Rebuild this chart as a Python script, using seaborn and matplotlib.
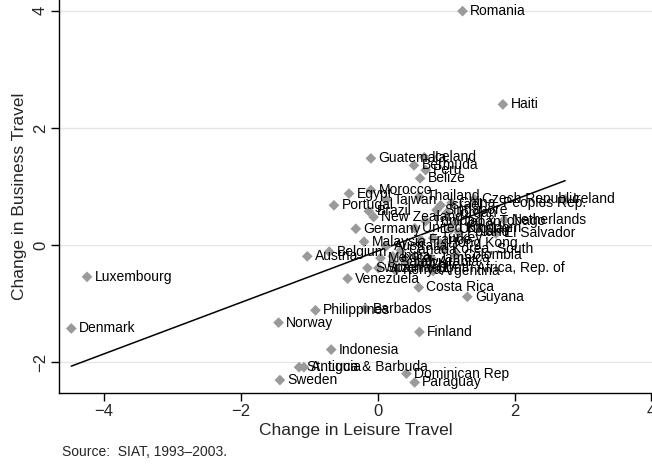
import numpy as np
import pandas as pd
import seaborn as sns
import matplotlib
matplotlib.use("Agg")
import matplotlib.pyplot as plt

# Datos (cambio en viajes de ocio vs negocios)
paises = [
    "Romania", "Haiti", "Guatemala", "Iceland", "Bermuda", "Peru", "Belize",
    "Morocco", "Egypt", "Portugal", "Ireland", "Netherlands", "Germany",
    "Malaysia", "Belgium", "Austria", "Venezuela", "Costa Rica", "Guyana",
    "Luxembourg", "Denmark", "Philippines", "Barbados", "Norway", "Finland",
    "Indonesia", "St. Lucia", "Antigua & Barbuda", "Dominican Rep", "Sweden",
    "Paraguay",
    "Thailand", "Taiwan", "Czech Republic", "China, Peoples Rep.", "Israel",
    "Singapore", "Brazil", "New Zealand", "Jordan", "Trinidad & Tobago",
    "Japan", "United Kingdom", "Uruguay", "El Salvador", "Poland", "Turkey",
    "France", "Hong Kong", "Australia", "Korea, South", "Colombia", "India",
    "Mexico", "Saudi Arabia", "Jamaica", "Spain", "Switzerland", "Argentina",
    "South Africa, Rep. of", "Chile", "Canada", "Italy", "Kenya",
]
ocio = [
    1.24, 1.83, -0.10, 0.68, 0.53, 0.70, 0.62,
    -0.10, -0.42, -0.64, 2.74, 1.85, -0.32,
    -0.20, -0.71, -1.03, -0.44, 0.60, 1.31,
    -4.25, -4.48, -0.91, -0.18, -1.45, 0.61,
    -0.68, -1.15, -1.08, 0.42, -1.43,
    0.54,
    0.61, 0.12, 1.42, 1.08, 0.92,
    0.86, -0.13, -0.06, 1.01, 0.70,
    1.14, 0.54, 1.07, 1.73, 1.19, 0.81,
    0.63, 0.92, 0.12, 0.97, 1.14, 0.22,
    0.04, 0.22, 0.78, 0.01, -0.15, 0.81,
    0.76, 0.63, 0.34, 0.41, 0.26,
]
negocios = [
    3.99, 2.40, 1.48, 1.50, 1.36, 1.28, 1.14,
    0.94, 0.88, 0.68, 0.78, 0.43, 0.28,
    0.06, -0.11, -0.19, -0.57, -0.72, -0.88,
    -0.54, -1.42, -1.11, -1.08, -1.32, -1.48,
    -1.78, -2.08, -2.08, -2.19, -2.30,
    -2.34,
    0.83, 0.77, 0.78, 0.72, 0.68,
    0.60, 0.58, 0.48, 0.55, 0.41,
    0.39, 0.29, 0.27, 0.20, 0.22, 0.12,
    0.09, 0.03, -0.02, -0.07, -0.17, -0.19,
    -0.22, -0.29, -0.22, -0.39, -0.39, -0.44,
    -0.39, -0.34, -0.09, -0.29, -0.43,
]

# recta de regresion
fit_intercept = -0.10
fit_slope = 0.438

df = pd.DataFrame({"pais": paises, "ocio": ocio, "negocios": negocios})

sns.set_theme(style="white")
plt.rcParams['font.family'] = ['Liberation Sans', 'DejaVu Sans']

fig = plt.figure(figsize=(6.52, 4.65), dpi=100)
ax = fig.add_axes([59 / 652, 72 / 465, 1 - 59 / 652, 393 / 465])

# linea ajustada sobre el rango de los datos
xs = np.array([df["ocio"].min(), df["ocio"].max()])
recta = pd.DataFrame({"x": xs, "y": fit_intercept + fit_slope * xs})
sns.lineplot(data=recta, x="x", y="y", color="black", linewidth=1.1, ax=ax, zorder=2)

sns.scatterplot(data=df, x="ocio", y="negocios", marker="D", s=30,
                color="#9a9a9a", edgecolor="none", ax=ax, zorder=3)

for _, fila in df.iterrows():
    ax.annotate(fila["pais"], (fila["ocio"], fila["negocios"]),
                xytext=(5.5, 0), textcoords="offset points",
                va="center", ha="left", fontsize=10, color="black", zorder=4)

ax.set_xlim(-4.66, 4.01)
ax.set_ylim(-2.52, 4.18)
ax.set_xticks([-4, -2, 0, 2, 4])
ax.set_yticks([-2, 0, 2, 4])
ax.yaxis.grid(True, color="#e6e6e6", linewidth=1)
ax.set_axisbelow(True)

for lado in ["top", "right"]:
    ax.spines[lado].set_visible(False)
for lado in ["left", "bottom"]:
    ax.spines[lado].set_color("black")
    ax.spines[lado].set_linewidth(1)

ax.tick_params(axis="both", direction="out", length=6, width=1, color="black",
               labelsize=12, pad=2, bottom=True, left=True)
ax.tick_params(axis="y", labelrotation=90)
for t in ax.get_yticklabels():
    t.set_va("center")

ax.set_xlabel("Change in Leisure Travel", fontsize=12.5, labelpad=3)
ax.set_ylabel("Change in Business Travel", fontsize=12.5, labelpad=4)

fig.text(62 / 652, 1 - 452 / 465, "Source:  SIAT, 1993\u20132003.", fontsize=10, va="center")

fig.savefig("out.png", dpi=100)
